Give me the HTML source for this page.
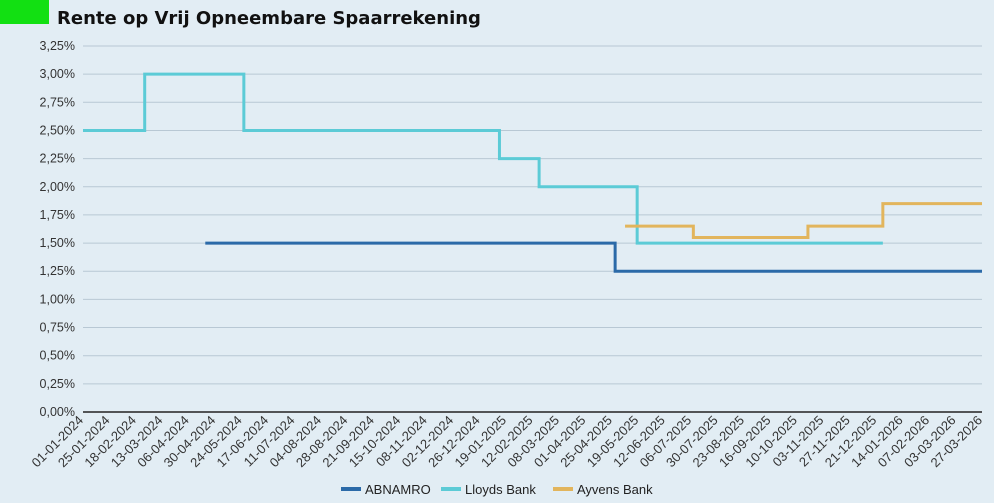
<!DOCTYPE html>
<html><head><meta charset="utf-8">
<style>
body{margin:0;background:#e2edf4;font-family:"Liberation Sans","DejaVu Sans",sans-serif;}
svg{display:block}
</style></head>
<body>
<svg id="c" width="994" height="503">
<rect x="0" y="0" width="994" height="503" fill="#e2edf4"/>
<rect x="0" y="0" width="49" height="24" fill="#12e012"/>
<text x="57" y="24" font-size="18" font-weight="bold" fill="#111" font-family="DejaVu Sans, sans-serif">Rente op Vrij Opneembare Spaarrekening</text>
<g id="grid"></g><g id="series"></g><g id="xlab"></g>
</svg>
<script>
const yTicks=[0,0.25,0.5,0.75,1,1.25,1.5,1.75,2,2.25,2.5,2.75,3,3.25];
const xTickDays=[];for(let d=0;d<=816;d+=24)xTickDays.push(d);
const seriesNames=["ABNAMRO","Lloyds Bank","Ayvens Bank"];
const seriesColors=["#2b6aa8","#5ccbd6","#e2b55c"];
const abnDays=[111,483,816];
const abnRates=[1.5,1.25,1.25];
const lloydsDays=[0,56,146,378,414,503,726];
const lloydsRates=[2.5,3.0,2.5,2.25,2.0,1.5,1.5];
const ayvensDays=[492,554,658,726,816];
const ayvensRates=[1.65,1.55,1.65,1.85,1.85];

const X0=83,X1=982,Y0=412,Y1=46,DMAX=816,VMAX=3.25;
const xs=d=>X0+(X1-X0)*d/DMAX;
const ys=v=>Y0-(Y0-Y1)*v/VMAX;
const NS="http://www.w3.org/2000/svg";
const mk=(t,a,p)=>{const e=document.createElementNS(NS,t);for(const k in a)e.setAttribute(k,a[k]);p.appendChild(e);return e;};
const grid=document.getElementById('grid');
yTicks.forEach(v=>{
  const l=mk('line',{x1:X0,x2:X1,y1:ys(v),y2:ys(v),stroke:v===0?'#222':'#b8c8d4','stroke-width':v===0?1.5:1},grid);
  
  
  const t=mk('text',{x:75,y:ys(v)+4,'text-anchor':'end','font-size':12.5,fill:'#333'},grid);
  t.textContent=v.toFixed(2).replace('.',',')+'%';
  
  
});
const xl=document.getElementById('xlab');
const base=new Date(Date.UTC(2024,0,1));
xTickDays.forEach(d=>{
  const dt=new Date(base.getTime()+d*86400000);
  const s=String(dt.getUTCDate()).padStart(2,'0')+'-'+String(dt.getUTCMonth()+1).padStart(2,'0')+'-'+dt.getUTCFullYear();
  const x=xs(d)+1,y=Y0+9;
  const t=mk('text',{x:x,y:y,'text-anchor':'end','font-size':13,fill:'#333',transform:`rotate(-45 ${x} ${y})`},xl);
  t.textContent=s;
  
  
});
const sg=document.getElementById('series');
[[abnDays,abnRates],[lloydsDays,lloydsRates],[ayvensDays,ayvensRates]].forEach((s,i)=>{
  const [D,R]=s;let p='';
  for(let k=0;k<D.length;k++){
    if(k===0)p+=`M${xs(D[0])},${ys(R[0])}`;
    else{p+=`H${xs(D[k])}V${ys(R[k])}`;}
  }
  const path=mk('path',{d:p,fill:'none',stroke:seriesColors[i],'stroke-width':3},sg);
  
  
});
const lx=[341,441,553];
seriesNames.forEach((n,i)=>{
  const g=mk('g',{},sg);
  
  
  mk('rect',{x:lx[i],y:487,width:20,height:4,fill:seriesColors[i]},g);
  const t=mk('text',{x:lx[i]+24,y:494,'font-size':13,fill:'#222'},g);
  t.textContent=n;
});
</script>
</body></html>
